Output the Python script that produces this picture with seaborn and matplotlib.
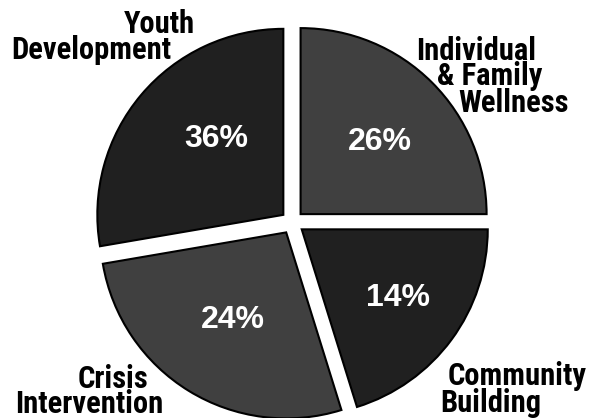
import matplotlib.pyplot as plt
import seaborn as sns

sns.set_theme(style='white')
plt.rcParams['font.family'] = ['Liberation Sans', 'DejaVu Sans']

# Data (clockwise from 12 o'clock)
categories = ['Individual & Family Wellness', 'Community Building',
              'Crisis Intervention', 'Youth Development']
percents = [26, 14, 24, 36]
# wedge sizes as drawn in the original picture (the slices are not drawn to scale)
wedge_shares = [25.0, 20.2, 27.1, 27.7]
label_lines = [['Individual', '& Family', 'Wellness'],
               ['Community', 'Building'],
               ['Crisis', 'Intervention'],
               ['Youth', 'Development']]
colors = ['#404040', '#202020', '#404040', '#202020']

W, H = 590, 418
cx, cy, r = 292.3, 222.4, 186.0

fig = plt.figure(figsize=(W / 100, H / 100), dpi=100)
ax = fig.add_axes([0, 0, 1, 1])
ax.pie(wedge_shares, colors=colors, startangle=90, counterclock=False,
       explode=[0.063] * 4, radius=1,
       wedgeprops=dict(edgecolor='black', linewidth=1.5))
ax.set_aspect('auto')
ax.set_xlim(-cx / r, (W - cx) / r)
ax.set_ylim(-(H - cy) / r, cy / r)
ax.axis('off')

# percent labels inside the slices (pixel positions, baseline)
pct_pos = [(379.5, 150), (397.5, 306), (233.3, 328.3), (216, 146.7)]
for p, (px, py) in zip(percents, pct_pos):
    fig.text(px / W, 1 - py / H, f'{p}%', ha='center', va='baseline',
             color='white', fontsize=23, fontweight='bold',
             family='Liberation Sans')

# category names outside, line by line
line_pos = [[(476, 60), (490, 85), (514, 111.7)],
            [(517, 385), (490.5, 412)],
            [(113, 388), (89, 413)],
            [(159, 33), (91.5, 59)]]
for lines, positions in zip(label_lines, line_pos):
    for txt, (px, py) in zip(lines, positions):
        fig.text(px / W, 1 - py / H, txt, ha='center', va='baseline',
                 color='black', fontsize=22, fontweight='bold',
                 fontstretch='condensed',
                 family=['Roboto Condensed', 'Open Sans Condensed',
                         'DejaVu Sans'])

fig.savefig('out.png', dpi=100)
